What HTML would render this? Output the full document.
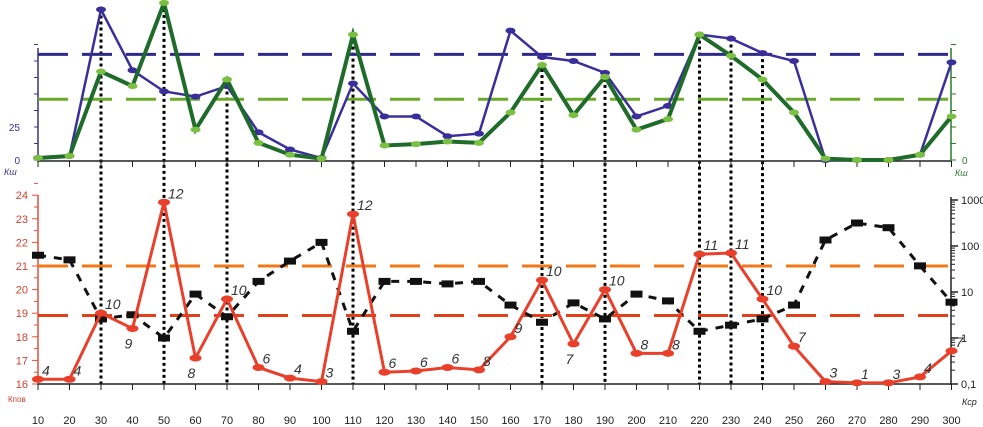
<!DOCTYPE html>
<html><head><meta charset="utf-8"><style>
body{margin:0;background:#fff;}
svg{display:block;font-family:"Liberation Sans",sans-serif;}
</style></head><body>
<svg id="c" width="983" height="427"></svg>
<script>
const cats=[10,20,30,40,50,60,70,80,90,100,110,120,130,140,150,160,170,180,190,200,210,220,230,240,250,260,270,280,290,300];
const blueVals=[1.5,3,114,68,52,48,56,21,8,1.5,58,33,33,18,20,98,78,75,66,33,41,95,92,81,75,0,0,0,4,74];
const greenVals=[1.5,3,67,56,119,23,61,13,4,1,95,11,12,14,13,36,72,34,63,23,31,95,79,61,36,1,0,0,4,33];
const redVals=[16.2,16.2,19.0,18.35,23.7,17.1,19.6,16.7,16.25,16.1,23.2,16.5,16.55,16.7,16.6,18.0,20.4,17.7,20.0,17.3,17.3,21.5,21.55,19.6,17.6,16.1,16.05,16.05,16.3,17.4];
const redLabels=["4","4","10","9","12","8","10","6","4","3","12","6","6","6","8","9","10","7","10","8","8","11","11","10","7","3","1","3","4","7"];
const blackVals=[63,50,2.6,3.2,1,9,2.9,17,47,120,1.4,17,17,15,17,5.2,2.2,5.8,2.6,9,6.4,1.4,1.9,2.6,5.2,135,316,250,37,6];
const leftTicks=[16,17,18,19,20,21,22,23,24];
const logTicks=[0.1,1,10,100,1000];
const logTickLabels=["0,1","1","10","100","1000"];
const dottedCats=[30,50,70,110,170,190,220,230,240];
const blueLimit=80, greenLimit=46, orangeLimit=21, redLimit=18.9;

const svg=document.getElementById('c');
const NS='http://www.w3.org/2000/svg';
function el(t,a,p){const e=document.createElementNS(NS,t);for(const k in a)e.setAttribute(k,a[k]);(p||svg).appendChild(e);return e;}
const X=v=>38+(v-10)/10*31.5;
const YT=v=>160-v*1.32;
const YB=v=>384-(v-16)*23.6;
const YL=v=>338-46*Math.log10(v);

// dotted verticals
dottedCats.forEach(c=>{const i=cats.indexOf(c);const top=YT(Math.max(blueVals[i],greenVals[i]));
const l=el('line',{x1:X(c),x2:X(c),y1:top,y2:384,stroke:'#000','stroke-width':3,'stroke-dasharray':'3,3'});
});

// top axes
let a=el('line',{x1:38,x2:38,y1:48,y2:162,stroke:'#3a2f8f','stroke-width':1.5});
a=el('line',{x1:38,x2:951,y1:161,y2:161,stroke:'#222','stroke-width':1.5});
a=el('line',{x1:951,x2:951,y1:48,y2:162,stroke:'#2a7a2a','stroke-width':1.5});
[0,12.5,25,37.5,50,62.5,75,87.5].forEach(v=>{el('line',{x1:34,x2:38,y1:YT(v),y2:YT(v),stroke:'#3a2f8f'});el('line',{x1:951,x2:956,y1:YT(v),y2:YT(v),stroke:'#2a7a2a'});});
cats.forEach(c=>el('line',{x1:X(c),x2:X(c),y1:161,y2:167,stroke:'#222'}));
let t=el('text',{x:20,y:131,'font-size':10,fill:'#3a2f8f','text-anchor':'end'});t.textContent='25';
t=el('text',{x:20,y:164,'font-size':10,fill:'#3a2f8f','text-anchor':'end'});t.textContent='0';
t=el('text',{x:962,y:164,'font-size':10,fill:'#2a7a2a'});t.textContent='0';
t=el('text',{x:4,y:175,'font-size':9,'font-style':'italic',fill:'#3a2f8f'});t.textContent='Кш';
t=el('text',{x:955,y:176,'font-size':9,'font-style':'italic',fill:'#2a7a2a'});t.textContent='Кш';

// limits top
a=el('line',{x1:38,x2:951,y1:YT(blueLimit),y2:YT(blueLimit),stroke:'#2e2a8a','stroke-width':3,'stroke-dasharray':'30,14'});
a=el('line',{x1:38,x2:951,y1:YT(greenLimit),y2:YT(greenLimit),stroke:'#6aaa2a','stroke-width':3,'stroke-dasharray':'30,14'});

function series(vals,yf,color,w,name,dash){
  const p=el('polyline',{points:vals.map((v,i)=>X(cats[i])+','+yf(v)).join(' '),fill:'none',stroke:color,'stroke-width':w});
  if(dash)p.setAttribute('stroke-dasharray',dash);
  
}
series(blueVals,YT,'#3a2f9a',2.5,'blue-series');
blueVals.forEach((v,i)=>{const m=el('ellipse',{cx:X(cats[i]),cy:YT(v),rx:5,ry:3,fill:'#3a2f9a'});});
series(greenVals,YT,'#1f6b2a',4,'green-series');
greenVals.forEach((v,i)=>{const m=el('ellipse',{cx:X(cats[i]),cy:YT(v),rx:5,ry:3,fill:'#7cc043'});});

// bottom axes
a=el('line',{x1:38,x2:38,y1:195,y2:385,stroke:'#e0503a','stroke-width':1.5});
a=el('line',{x1:38,x2:951,y1:384,y2:384,stroke:'#222','stroke-width':1.5});
a=el('line',{x1:951,x2:951,y1:197,y2:385,stroke:'#222','stroke-width':1.5});
leftTicks.forEach(v=>{el('line',{x1:32,x2:38,y1:YB(v),y2:YB(v),stroke:'#e0503a'});el('line',{x1:34,x2:38,y1:YB(v+0.5),y2:YB(v+0.5),stroke:'#e0503a'});
 const tt=el('text',{x:28,y:YB(v)+4,'font-size':11,fill:'#d04030','text-anchor':'end'});tt.textContent=v;});
logTicks.forEach((v,i)=>{el('line',{x1:951,x2:958,y1:YL(v),y2:YL(v),stroke:'#222','stroke-width':1.5});
 if(i<logTicks.length-1)for(let k=2;k<10;k++)el('line',{x1:951,x2:955,y1:YL(v*k),y2:YL(v*k),stroke:'#222'});
 const tt=el('text',{x:961,y:YL(v)+4,'font-size':11,fill:'#222'});tt.textContent=logTickLabels[i];});
cats.forEach(c=>{el('line',{x1:X(c),x2:X(c),y1:384,y2:390,stroke:'#222'});
 const tt=el('text',{x:X(c),y:424,'font-size':11,fill:'#222','text-anchor':'middle'});tt.textContent=c;});
t=el('text',{x:8,y:402,'font-size':8,fill:'#d04030'});t.textContent='Кпов';
t=el('text',{x:962,y:405,'font-size':9,'font-style':'italic',fill:'#222'});t.textContent='Кср';

a=el('line',{x1:38,x2:951,y1:YB(orangeLimit),y2:YB(orangeLimit),stroke:'#f07a1a','stroke-width':3,'stroke-dasharray':'30,14'});
a=el('line',{x1:38,x2:951,y1:YB(redLimit),y2:YB(redLimit),stroke:'#e0401a','stroke-width':3,'stroke-dasharray':'30,14'});

series(blackVals,YL,'#111',3,'black-series','8,8');
blackVals.forEach((v,i)=>{const m=el('rect',{x:X(cats[i])-6,y:YL(v)-3.5,width:12,height:7,fill:'#111'});});
series(redVals,YB,'#e8402a',3,'red-series');
redVals.forEach((v,i)=>{const m=el('ellipse',{cx:X(cats[i]),cy:YB(v),rx:6,ry:3.5,fill:'#e8402a'});
 const below=(i>0&&i<cats.length-1&&redVals[i-1]>v&&redVals[i+1]>v&&v>16.9);
 const tt=el('text',{x:X(cats[i])+(below?-8:4),y:YB(v)+(below?20:-4),'font-size':14,'font-style':'italic',fill:'#333'});tt.textContent=redLabels[i];
 });
</script>
</body></html>
